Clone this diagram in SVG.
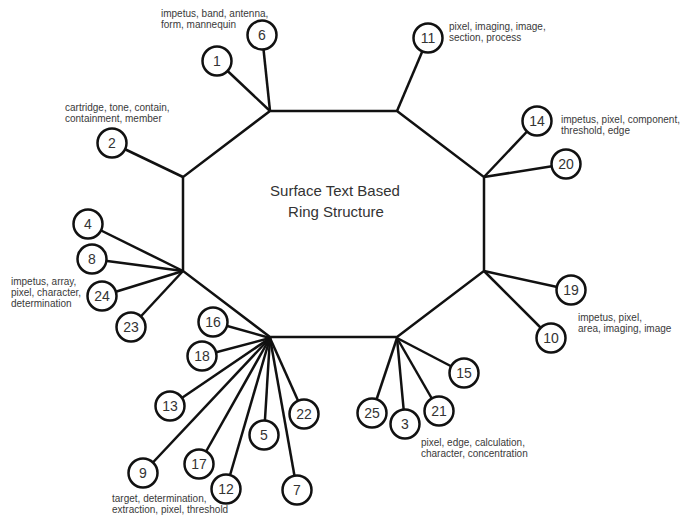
<svg xmlns="http://www.w3.org/2000/svg" width="683" height="516" viewBox="0 0 683 516">
  <style>
    .ring { fill: none; stroke: #111; stroke-width: 2.5; stroke-linejoin: miter; }
    .spoke { stroke: #111; stroke-width: 2.5; stroke-linecap: butt; }
    .node circle { fill: #fff; stroke: #111; stroke-width: 2.5; }
    .node text { font-family: "Liberation Sans", Arial, sans-serif; font-size: 14px; fill: #333; text-anchor: middle; }
    .label { font-family: "Liberation Sans", Arial, sans-serif; font-size: 10px; fill: #3a3a3a; }
    .title { font-family: "Liberation Sans", Arial, sans-serif; font-size: 15px; fill: #333; text-anchor: middle; }
  </style>
  <rect width="683" height="516" fill="#fff"/>

  <!-- ring and spokes -->
  <g id="connectors">
    <polygon class="ring" points="270,111 397,111 484,177 484,271 397,337 270,337 183,271 183,177"/>
    <!-- top-left vertex -->
    <line class="spoke" x1="270" y1="111" x2="262" y2="35"/>
    <line class="spoke" x1="270" y1="111" x2="217" y2="61"/>
    <!-- left-top vertex -->
    <line class="spoke" x1="183" y1="177" x2="112" y2="143"/>
    <!-- top-right vertex -->
    <line class="spoke" x1="397" y1="111" x2="428" y2="38"/>
    <!-- right-top vertex -->
    <line class="spoke" x1="484" y1="177" x2="537" y2="121"/>
    <line class="spoke" x1="484" y1="177" x2="566" y2="164"/>
    <!-- right-bottom vertex -->
    <line class="spoke" x1="484" y1="271" x2="571" y2="290"/>
    <line class="spoke" x1="484" y1="271" x2="551" y2="338"/>
    <!-- left-bottom vertex -->
    <line class="spoke" x1="183" y1="271" x2="88" y2="224"/>
    <line class="spoke" x1="183" y1="271" x2="92" y2="259"/>
    <line class="spoke" x1="183" y1="271" x2="102" y2="296"/>
    <line class="spoke" x1="183" y1="271" x2="131" y2="327"/>
    <!-- bottom-left vertex -->
    <line class="spoke" x1="270" y1="338" x2="213" y2="322"/>
    <line class="spoke" x1="270" y1="338" x2="202" y2="356"/>
    <line class="spoke" x1="270" y1="338" x2="170" y2="406"/>
    <line class="spoke" x1="270" y1="338" x2="143" y2="473"/>
    <line class="spoke" x1="270" y1="338" x2="199" y2="464"/>
    <line class="spoke" x1="270" y1="338" x2="226" y2="489"/>
    <line class="spoke" x1="270" y1="338" x2="264" y2="435"/>
    <line class="spoke" x1="270" y1="338" x2="304" y2="414"/>
    <line class="spoke" x1="270" y1="338" x2="297" y2="490"/>
    <!-- bottom-right vertex -->
    <line class="spoke" x1="397" y1="338" x2="372" y2="413"/>
    <line class="spoke" x1="397" y1="338" x2="405" y2="424"/>
    <line class="spoke" x1="397" y1="338" x2="439" y2="411"/>
    <line class="spoke" x1="397" y1="338" x2="464" y2="373"/>
  </g>

  <g id="title">
    <text class="title" x="335" y="196">Surface Text Based</text>
    <text class="title" x="336" y="217">Ring Structure</text>
  </g>

  <!-- numbered nodes -->
  <g id="n6" class="node"><circle cx="262" cy="35" r="14.5"/><text x="262" y="40">6</text></g>
  <g id="n1" class="node"><circle cx="217" cy="61" r="14.5"/><text x="217" y="66">1</text></g>
  <g id="n2" class="node"><circle cx="112" cy="143" r="14.5"/><text x="112" y="148">2</text></g>
  <g id="n11" class="node"><circle cx="428" cy="38" r="14.5"/><text x="428" y="43">11</text></g>
  <g id="n14" class="node"><circle cx="537" cy="121" r="14.5"/><text x="537" y="126">14</text></g>
  <g id="n20" class="node"><circle cx="566" cy="164" r="14.5"/><text x="566" y="169">20</text></g>
  <g id="n19" class="node"><circle cx="571" cy="290" r="14.5"/><text x="571" y="295">19</text></g>
  <g id="n10" class="node"><circle cx="551" cy="338" r="14.5"/><text x="551" y="343">10</text></g>
  <g id="n4" class="node"><circle cx="88" cy="224" r="14.5"/><text x="88" y="229">4</text></g>
  <g id="n8" class="node"><circle cx="92" cy="259" r="14.5"/><text x="92" y="264">8</text></g>
  <g id="n24" class="node"><circle cx="102" cy="296" r="14.5"/><text x="102" y="301">24</text></g>
  <g id="n23" class="node"><circle cx="131" cy="327" r="14.5"/><text x="131" y="332">23</text></g>
  <g id="n16" class="node"><circle cx="213" cy="322" r="14.5"/><text x="213" y="327">16</text></g>
  <g id="n18" class="node"><circle cx="202" cy="356" r="14.5"/><text x="202" y="361">18</text></g>
  <g id="n13" class="node"><circle cx="170" cy="406" r="14.5"/><text x="170" y="411">13</text></g>
  <g id="n9" class="node"><circle cx="143" cy="473" r="14.5"/><text x="143" y="478">9</text></g>
  <g id="n17" class="node"><circle cx="199" cy="464" r="14.5"/><text x="199" y="469">17</text></g>
  <g id="n12" class="node"><circle cx="226" cy="489" r="14.5"/><text x="226" y="494">12</text></g>
  <g id="n5" class="node"><circle cx="264" cy="435" r="14.5"/><text x="264" y="440">5</text></g>
  <g id="n22" class="node"><circle cx="304" cy="414" r="14.5"/><text x="304" y="419">22</text></g>
  <g id="n7" class="node"><circle cx="297" cy="490" r="14.5"/><text x="297" y="495">7</text></g>
  <g id="n25" class="node"><circle cx="372" cy="413" r="14.5"/><text x="372" y="418">25</text></g>
  <g id="n3" class="node"><circle cx="405" cy="424" r="14.5"/><text x="405" y="429">3</text></g>
  <g id="n21" class="node"><circle cx="439" cy="411" r="14.5"/><text x="439" y="416">21</text></g>
  <g id="n15" class="node"><circle cx="464" cy="373" r="14.5"/><text x="464" y="378">15</text></g>

  <!-- keyword labels -->
  <g id="labels">
    <text class="label" x="161" y="17">impetus, band, antenna,</text>
    <text class="label" x="161" y="28">form, mannequin</text>
    <text class="label" x="65" y="111">cartridge, tone, contain,</text>
    <text class="label" x="65" y="122">containment, member</text>
    <text class="label" x="449" y="30">pixel, imaging, image,</text>
    <text class="label" x="449" y="41">section, process</text>
    <text class="label" x="561" y="123">impetus, pixel, component,</text>
    <text class="label" x="561" y="134">threshold, edge</text>
    <text class="label" x="11" y="285">impetus, array,</text>
    <text class="label" x="11" y="296">pixel, character,</text>
    <text class="label" x="11" y="307">determination</text>
    <text class="label" x="578" y="321">impetus, pixel,</text>
    <text class="label" x="578" y="332">area, imaging, image</text>
    <text class="label" x="421" y="446">pixel, edge, calculation,</text>
    <text class="label" x="421" y="457">character, concentration</text>
    <text class="label" x="112" y="502">target, determination,</text>
    <text class="label" x="112" y="513">extraction, pixel, threshold</text>
  </g>
</svg>
